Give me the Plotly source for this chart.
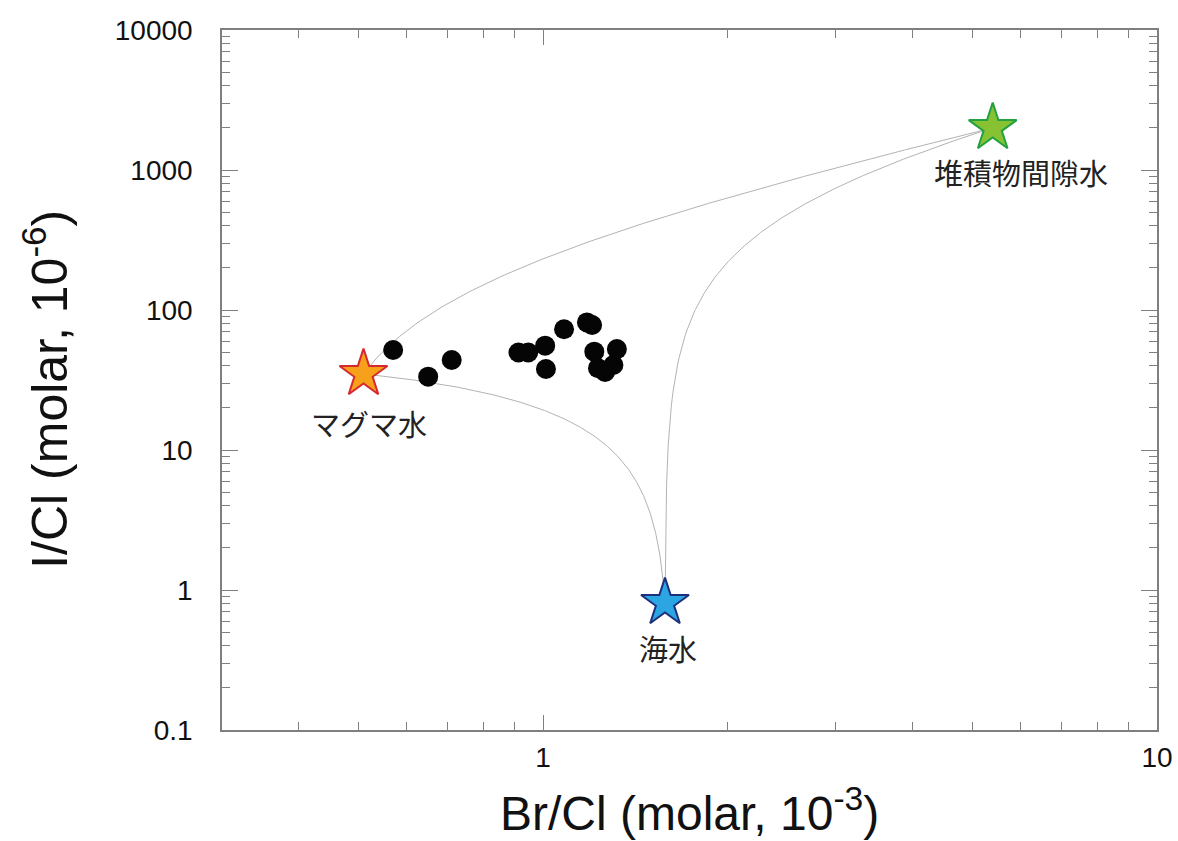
import numpy as np
import plotly.graph_objects as go

# Measured fluid samples: Br/Cl (molar, 1e-3) and I/Cl (molar, 1e-6)
sample_br_cl = [0.570, 0.650, 0.710, 0.912, 0.946, 1.008, 1.011, 1.082,
                1.179, 1.202, 1.212, 1.319, 1.302, 1.229, 1.262]
sample_i_cl = [51.8, 33.4, 43.9, 49.7, 49.7, 55.6, 37.9, 72.8,
               81.5, 78.2, 50.4, 52.6, 40.5, 38.4, 36.1]

# End-member fluids
end_names = ["マグマ水", "海水", "堆積物間隙水"]
end_br_cl = [0.51, 1.58, 5.4]
end_i_cl = [35.0, 0.81, 2000.0]
end_fill = ["#F7A11A", "#2BA6E2", "#86C232"]
end_edge = ["#D7282F", "#1F2F7C", "#24A043"]
# label offsets (px) below each star
label_dx = [6, 3, 28]
label_dy = [-49, -45, -44]

# Pairs of end-members joined by binary mixing curves
mix_pairs = [(0, 2), (0, 1), (1, 2)]

AXIS_GRAY = "#7f7f7f"
SANS = "Liberation Sans, Arial, sans-serif"
TICK_FONT = dict(family=SANS, size=28, color="#111111")
TITLE_FONT = dict(family=SANS, size=48, color="#111111")
YTITLE_FONT = dict(family=SANS, size=50, color="#111111")
CJK_FONT = dict(family="Noto Sans CJK JP, sans-serif", size=29, color="#222222")

fig = go.Figure()

# Mixing curves: linear in ratio space (common denominator Cl), curved on log axes
frac = np.linspace(0.0, 1.0, 400)
for a, b in mix_pairs:
    xs = end_br_cl[a] + (end_br_cl[b] - end_br_cl[a]) * frac
    ys = end_i_cl[a] + (end_i_cl[b] - end_i_cl[a]) * frac
    fig.add_trace(go.Scatter(x=xs, y=ys, mode="lines",
                             line=dict(color="#b3b3b3", width=1),
                             hoverinfo="skip", showlegend=False))

# Samples
fig.add_trace(go.Scatter(x=sample_br_cl, y=sample_i_cl, mode="markers",
                         marker=dict(size=20, color="#050505",
                                     line=dict(width=0)),
                         showlegend=False))

# End-member stars and their labels
for i in range(3):
    fig.add_trace(go.Scatter(x=[end_br_cl[i]], y=[end_i_cl[i]], mode="markers",
                             marker=dict(symbol="star", size=36,
                                         color=end_fill[i],
                                         line=dict(color=end_edge[i], width=2)),
                             showlegend=False))
    fig.add_annotation(x=np.log10(end_br_cl[i]), y=np.log10(end_i_cl[i]),
                       text=end_names[i], showarrow=False,
                       xshift=label_dx[i], yshift=label_dy[i], font=CJK_FONT)

def minor_vals(lo_exp, hi_exp):
    vals = []
    for e in range(lo_exp, hi_exp):
        for m in range(2, 10):
            vals.append(m * 10.0 ** e)
    return vals

x_minor = [v for v in minor_vals(-1, 1) if v > 0.3]
y_minor = minor_vals(-1, 4)

fig.update_xaxes(
    type="log", range=[np.log10(0.3), 1.0],
    tickvals=[1, 10], ticktext=["1", "10"],
    ticks="inside", ticklen=15, tickwidth=1, tickcolor=AXIS_GRAY,
    minor=dict(tickvals=x_minor, ticks="inside", ticklen=8,
               tickwidth=1, tickcolor=AXIS_GRAY, showgrid=False),
    showline=True, linecolor=AXIS_GRAY, linewidth=1.5, mirror="allticks",
    showgrid=False, zeroline=False, tickfont=TICK_FONT,
    ticklabelstandoff=2, automargin=False,
)
fig.update_yaxes(
    type="log", range=[-1, 4],
    tickvals=[0.1, 1, 10, 100, 1000, 10000],
    ticktext=["0.1", "1", "10", "100", "1000", "10000"],
    ticks="inside", ticklen=16, tickwidth=1, tickcolor=AXIS_GRAY,
    minor=dict(tickvals=y_minor, ticks="inside", ticklen=8,
               tickwidth=1, tickcolor=AXIS_GRAY, showgrid=False),
    showline=True, linecolor=AXIS_GRAY, linewidth=1.5, mirror="allticks",
    showgrid=False, zeroline=False, tickfont=TICK_FONT,
    ticklabelstandoff=22, automargin=False,
)

# Axis titles
fig.add_annotation(xref="paper", yref="paper", x=0.5, y=0,
                   text="Br/Cl (molar, 10<sup>-3</sup>)", showarrow=False,
                   xanchor="center", yanchor="middle", yshift=-80,
                   font=TITLE_FONT)
fig.add_annotation(xref="paper", yref="paper", x=0, y=0.486,
                   text="I/Cl (molar, 10<sup>-6</sup>)", showarrow=False,
                   xanchor="center", yanchor="middle", xshift=-176,
                   textangle=-90, font=YTITLE_FONT)

fig.update_layout(
    width=1178, height=841,
    margin=dict(l=222, r=21, t=30, b=111),
    plot_bgcolor="white", paper_bgcolor="white",
    showlegend=False,
)

fig.write_html("out.html")
